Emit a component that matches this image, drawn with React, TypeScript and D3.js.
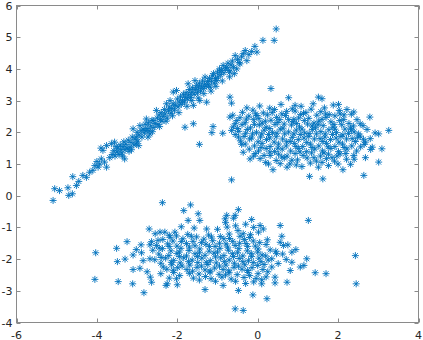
import React from "react";
import * as d3 from "d3";

const xTicks = [-6, -4, -2, 0, 2, 4];
const yTicks = [-4, -3, -2, -1, 0, 1, 2, 3, 4, 5, 6];

const diagonalCluster: [number, number][] = [
  [-5.09,-0.15],[-5.05,0.22],[-4.93,0.16],[-4.72,0.25],[-4.70,0.01],[-4.61,0.06],[-4.60,0.60],[-4.51,0.32],[-4.45,0.45],[-4.35,0.64],[-4.26,0.58],[-4.18,0.74],[-4.10,0.80],[-3.97,0.90],[-3.93,1.00],[-3.89,1.16],[-3.81,1.06],[-3.76,0.90],[-3.85,1.43],[-3.90,1.50],[-4.05,0.95],[-4.00,1.08],
  [-3.76,1.58],[-3.64,1.64],[-3.56,1.69],[-3.68,1.20],[-3.62,1.30],[-3.58,1.42],[-3.55,1.25],[-3.50,1.38],[-3.48,1.50],[-3.45,1.30],[-3.42,1.60],[-3.40,1.45],[-3.38,1.35],[-3.35,1.55],[-3.33,1.70],[-3.31,1.16],[-3.30,1.45],[-3.28,1.62],[-3.25,1.50],[-3.22,1.75],[-3.20,1.40],[-3.18,1.53],[-3.15,1.68],[-3.12,1.85],[-3.10,2.11],[-3.08,1.60],[-3.05,1.78],[-3.02,1.64],[-3.02,1.85],[-3.00,2.00],[-2.98,1.72],[-2.95,1.92],[-2.93,2.21],[-2.90,2.05],[-2.88,1.85],[-2.85,2.10],[-2.82,1.98],[-2.80,2.25],[-2.77,2.42],[-2.75,2.12],[-2.73,1.85],[-2.72,2.30],[-2.70,2.05],[-2.68,1.95],[-2.66,2.20],[-2.63,2.38],[-2.60,2.37],[-2.58,2.15],[-2.55,2.28],[-2.52,2.69],[-2.50,2.45],[-2.48,2.25],[-2.45,2.55],[-2.42,2.40],[-2.40,2.62],[-2.38,2.35],[-2.35,2.50],[-2.32,2.72],[-2.30,2.58],[-2.27,2.90],[-2.25,2.45],[-2.22,2.68],[-2.20,2.80],[-2.18,3.00],[-2.16,2.60],[-2.14,2.75],[-2.10,3.27],[-2.10,2.90],[-2.07,2.70],[-2.05,2.85],[-2.02,3.32],[-2.00,3.05],[-1.98,2.80],[-1.95,2.95],[-1.92,3.12],[-1.90,2.88],[-1.87,3.00],[-1.85,3.20],[-1.82,2.95],[-1.80,3.10],[-1.78,3.25],[-1.75,3.05],[-1.73,3.53],[-1.72,3.18],[-1.70,3.35],[-1.67,3.10],[-1.65,3.25],[-1.62,3.40],[-1.60,2.85],[-1.58,3.20],[-1.56,3.63],[-1.55,3.35],[-1.52,3.48],[-1.50,3.25],[-1.47,3.40],[-1.45,3.55],[-1.44,3.00],[-1.42,3.30],[-1.40,3.45],[-1.37,3.62],[-1.35,3.38],[-1.32,3.52],[-1.31,3.74],[-1.28,3.45],[-1.27,2.95],[-1.25,3.60],[-1.22,3.50],[-1.20,3.70],[-1.18,3.42],[-1.15,3.62],[-1.12,3.78],[-1.10,3.85],[-1.08,3.55],[-1.05,3.70],[-1.02,3.63],[-1.00,3.90],[-0.98,3.75],[-0.95,4.00],[-0.92,3.82],[-0.90,3.95],[-0.86,4.11],[-0.84,3.88],[-0.80,4.02],[-0.77,4.05],[-0.74,4.18],[-0.72,3.95],[-0.69,3.90],[-0.66,4.12],[-0.63,4.25],[-0.60,4.05],[-0.56,4.42],[-0.52,4.00],[-0.50,4.30],[-0.46,4.20],[-0.44,4.16],[-0.40,4.38],[-0.36,4.48],[-0.31,4.58],[-0.27,4.26],[-0.22,4.45],[-0.15,4.55],[-0.07,4.71],[-0.02,4.53],[0.13,4.90],[0.41,4.90],[0.46,5.26],
  [-0.69,3.11],[-0.65,2.92],[-1.60,2.27],[-1.81,2.16],[-1.11,2.18],
  [-3.52,1.55],[-3.36,1.25],[-3.14,1.45],[-2.96,1.58],[-2.78,2.05],[-2.62,2.02],[-2.44,2.18],[-2.28,2.35],[-2.12,2.52],[-1.96,2.62],[-1.76,2.82],[-1.64,3.00],[-1.48,3.08],[-1.34,3.22],[-1.16,3.30],[-1.04,3.45],[-0.88,3.62],[-0.70,3.75],[-0.58,3.85],
];

const upperRightCluster: [number, number][] = [
  [0.33,3.38],[0.77,3.09],[0.93,2.85],[1.51,3.11],[1.60,3.06],[2.01,2.88],[2.39,2.64],[2.79,2.48],[3.01,1.95],[3.26,2.06],[3.09,1.48],[3.01,1.06],[2.68,1.20],[2.64,0.64],[2.12,0.82],[1.62,0.53],[1.29,0.61],[1.51,0.90],[0.38,0.82],[-0.65,0.50],[-1.45,1.62],[-1.14,1.99],[-0.87,1.97],[-0.27,2.77],[2.39,1.27],[2.55,2.27],[2.51,1.95],[2.05,2.58],[0.73,0.90],[2.68,1.69],[2.85,1.53],[-0.69,2.48],[-0.56,2.27],[-0.65,2.06],[-0.48,1.85],[-0.36,1.37],[-0.19,1.16],[-0.02,2.53],[0.27,1.00],[0.31,1.27],
  [0.05,2.83],[0.30,2.76],[0.58,2.88],[0.86,2.74],[1.08,2.82],[1.38,2.90],[1.66,2.77],[1.88,2.86],
  [-0.38,2.63],[-0.12,2.70],[0.14,2.61],[0.42,2.72],[0.60,2.58],[0.93,2.67],[1.14,2.60],[1.33,2.73],[1.57,2.65],[1.78,2.56],[2.03,2.69],[2.22,2.72],
  [-0.62,2.54],[-0.44,2.46],[-0.22,2.51],[0.03,2.43],[0.24,2.55],[0.47,2.47],[0.69,2.53],[0.90,2.41],[1.07,2.56],[1.27,2.44],[1.47,2.54],[1.70,2.47],[1.92,2.52],[2.14,2.40],[2.33,2.57],
  [-0.52,2.37],[-0.31,2.30],[-0.10,2.40],[0.11,2.29],[0.33,2.38],[0.50,2.31],[0.77,2.40],[0.97,2.28],[1.16,2.37],[1.40,2.29],[1.60,2.41],[1.82,2.33],[2.04,2.37],[2.27,2.28],[2.47,2.40],
  [-0.61,2.17],[-0.39,2.24],[-0.18,2.14],[0.04,2.23],[0.21,2.16],[0.43,2.25],[0.63,2.13],[0.84,2.23],[1.04,2.17],[1.24,2.26],[1.44,2.14],[1.63,2.21],[1.87,2.16],[2.09,2.24],[2.31,2.13],[2.62,2.21],
  [-0.47,2.03],[-0.26,2.09],[-0.03,2.00],[0.16,2.07],[0.37,1.99],[0.56,2.10],[0.77,2.01],[0.96,2.07],[1.17,1.98],[1.36,2.09],[1.57,2.02],[1.77,2.08],[1.96,1.99],[2.17,2.10],[2.40,2.01],[2.72,2.09],[2.92,1.98],
  [-0.56,1.93],[-0.34,1.87],[-0.13,1.95],[0.07,1.85],[0.27,1.93],[0.46,1.86],[0.67,1.95],[0.86,1.84],[1.06,1.93],[1.27,1.87],[1.46,1.95],[1.67,1.85],[1.86,1.93],[2.07,1.87],[2.26,1.96],[2.49,1.84],
  [-0.43,1.73],[-0.20,1.79],[0.01,1.70],[0.22,1.77],[0.41,1.69],[0.62,1.79],[0.81,1.71],[1.01,1.77],[1.22,1.68],[1.41,1.79],[1.62,1.71],[1.81,1.77],[2.02,1.69],[2.21,1.79],[2.43,1.71],[2.63,1.78],
  [-0.31,1.63],[-0.08,1.57],[0.11,1.65],[0.31,1.55],[0.52,1.63],[0.71,1.57],[0.91,1.65],[1.12,1.55],[1.31,1.63],[1.52,1.57],[1.71,1.65],[1.92,1.55],[2.11,1.63],[2.34,1.57],[2.56,1.54],
  [-0.21,1.47],[0.02,1.41],[0.21,1.49],[0.42,1.39],[0.61,1.47],[0.82,1.41],[1.02,1.49],[1.21,1.39],[1.42,1.47],[1.61,1.41],[1.82,1.49],[2.01,1.39],[2.22,1.47],[2.46,1.41],[2.81,1.46],
  [-0.06,1.33],[0.16,1.27],[0.52,1.31],[0.73,1.25],[0.93,1.33],[1.13,1.27],[1.34,1.35],[1.56,1.25],[1.76,1.31],[1.97,1.25],[2.19,1.33],
  [0.06,1.17],[0.46,1.11],[0.66,1.19],[0.99,1.13],[1.23,1.19],[1.46,1.09],[1.71,1.17],[1.91,1.09],[2.21,1.15],
  [0.56,1.01],[0.96,0.97],[1.31,1.03],[1.76,0.95],[2.31,0.99],
  [-0.28,2.42],[-0.05,2.58],[0.19,2.35],[0.36,2.62],[0.55,2.40],[0.72,2.66],[0.88,2.33],[1.02,2.45],[1.20,2.62],[1.35,2.20],[1.52,2.35],[1.69,2.58],[1.90,2.25],[2.15,2.55],[2.38,2.20],
  [-0.50,2.12],[-0.30,1.97],[-0.08,2.25],[0.10,1.95],[0.30,2.12],[0.48,1.97],[0.66,2.26],[0.90,1.95],[1.10,2.10],[1.28,1.96],[1.50,2.24],[1.68,1.95],[1.92,2.10],[2.12,1.92],[2.33,2.08],[2.55,1.88],[2.80,1.80],
  [-0.40,1.62],[-0.15,1.82],[0.08,1.52],[0.30,1.82],[0.50,1.50],[0.72,1.70],[0.95,1.55],[1.15,1.82],[1.35,1.52],[1.55,1.80],[1.75,1.54],[1.95,1.82],[2.15,1.52],[2.35,1.80],[2.65,1.62],
  [-0.10,1.25],[0.30,1.38],[0.60,1.22],[0.85,1.12],[1.05,1.38],[1.40,1.20],[1.65,1.35],[1.85,1.20],[2.05,1.32],[2.40,1.15],[0.20,1.05],[0.80,1.00],[1.10,0.92],[1.60,1.05],[2.00,1.00],
];

const lowerCluster: [number, number][] = [
  [-2.37,-0.22],[-1.67,-0.29],[-1.84,-0.47],[-1.48,-0.57],[-1.73,-0.78],[-1.44,-0.78],[-2.70,-1.05],[-4.03,-1.80],[-3.51,-1.66],[-3.49,-2.08],[-4.05,-2.64],[-3.47,-2.71],[-3.11,-2.78],[-2.83,-3.06],[-3.10,-1.87],[-3.02,-1.70],[-2.89,-1.80],[-3.10,-2.33],[-2.93,-2.29],[-2.68,-1.99],[-2.68,-1.55],[-2.64,-1.45],[-2.43,-1.15],[-2.31,-1.15],[-2.06,-1.15],[-2.18,-1.31],[-2.48,-1.41],[-2.64,-2.73],[-2.67,-2.57],[-2.28,-2.83],[-2.25,-2.78],[-2.00,-2.81],[-2.02,-2.62],[-1.94,-2.52],[-1.31,-2.96],[-1.60,-2.60],[-0.48,-0.44],[-0.60,-0.71],[-0.81,-0.73],[-0.15,-0.75],[0.06,-0.94],[0.56,-0.94],[1.26,-0.78],[0.60,-1.28],[0.56,-1.47],[0.64,-1.57],[0.85,-1.78],[1.22,-1.99],[1.43,-2.43],[1.70,-2.46],[0.73,-2.73],[0.43,-2.75],[0.43,-2.57],[0.81,-2.36],[0.85,-2.10],[1.06,-2.25],[0.23,-3.25],[-0.12,-3.13],[-0.48,-2.99],[-0.86,-2.83],[-0.56,-3.57],[-0.36,-3.62],[0.35,-1.99],[0.47,-1.83],[0.14,-1.05],[0.02,-1.15],[-0.36,-1.20],[-1.27,-1.05],[2.45,-2.78],[2.43,-1.89],[-0.30,-2.77],[-0.10,-2.72],[0.10,-2.78],[-1.45,-2.66],
  [-1.00,-1.06],[-0.76,-0.99],[-1.58,-1.02],[-0.49,-1.10],[-1.90,-0.98],[-0.80,-0.85],[-0.55,-0.95],[-0.30,-0.90],[-0.10,-1.00],[-0.77,-0.62],[-0.56,-0.62],
  [-2.85,-2.05],[-2.75,-2.40],[-2.90,-1.55],[-2.55,-1.20],[-3.30,-2.00],[-3.25,-1.45],[0.75,-1.55],[0.95,-1.70],[1.15,-2.20],
  [-2.02,-1.27],[-1.74,-1.22],[-1.52,-1.30],[-1.22,-1.24],[-0.93,-1.29],[-0.71,-1.21],[-0.44,-1.28],[-0.18,-1.23],
  [-2.36,-1.38],[-2.11,-1.43],[-1.86,-1.36],[-1.61,-1.44],[-1.34,-1.37],[-1.12,-1.42],[-0.84,-1.36],[-0.62,-1.44],[-0.33,-1.38],[-0.11,-1.43],[0.24,-1.39],
  [-2.52,-1.57],[-2.24,-1.52],[-2.01,-1.59],[-1.77,-1.51],[-1.56,-1.58],[-1.29,-1.53],[-1.06,-1.60],[-0.79,-1.52],[-0.56,-1.57],[-0.29,-1.51],[-0.06,-1.59],[0.21,-1.54],
  [-2.61,-1.72],[-2.37,-1.67],[-2.16,-1.74],[-1.91,-1.66],[-1.71,-1.73],[-1.44,-1.68],[-1.21,-1.75],[-0.94,-1.66],[-0.73,-1.72],[-0.47,-1.67],[-0.26,-1.74],[0.01,-1.68],[0.31,-1.71],
  [-2.46,-1.84],[-2.21,-1.89],[-2.01,-1.82],[-1.77,-1.90],[-1.56,-1.83],[-1.31,-1.88],[-1.09,-1.81],[-0.84,-1.89],[-0.63,-1.83],[-0.37,-1.90],[-0.16,-1.82],[0.11,-1.87],[0.62,-1.84],
  [-2.56,-2.02],[-2.29,-1.97],[-2.09,-2.04],[-1.84,-1.96],[-1.63,-2.03],[-1.39,-1.97],[-1.18,-2.05],[-0.92,-1.96],[-0.71,-2.03],[-0.46,-1.98],[-0.23,-2.05],[0.03,-1.97],[0.26,-2.03],[0.71,-2.01],
  [-2.41,-2.13],[-2.14,-2.18],[-1.93,-2.12],[-1.69,-2.19],[-1.49,-2.11],[-1.24,-2.17],[-1.03,-2.12],[-0.79,-2.19],[-0.58,-2.13],[-0.32,-2.18],[-0.11,-2.11],[0.16,-2.17],[0.51,-2.14],
  [-2.26,-2.32],[-1.99,-2.27],[-1.76,-2.33],[-1.51,-2.26],[-1.31,-2.34],[-1.07,-2.28],[-0.86,-2.33],[-0.59,-2.26],[-0.39,-2.32],[-0.14,-2.27],[0.13,-2.33],
  [-2.41,-2.46],[-2.09,-2.42],[-1.46,-2.47],[-1.19,-2.41],[-0.96,-2.48],[-0.71,-2.43],[-0.51,-2.49],[-0.24,-2.42],[0.01,-2.46],
  [-1.16,-2.62],[-0.89,-2.57],[-0.66,-2.63],[-0.34,-2.58],[-0.04,-2.61],[0.21,-2.56],
  [-2.20,-1.25],[-1.90,-1.45],[-1.65,-1.28],[-1.40,-1.48],[-1.15,-1.30],[-0.95,-1.50],[-0.70,-1.35],[-0.45,-1.50],[-0.20,-1.32],[0.05,-1.48],
  [-2.45,-1.65],[-2.20,-1.60],[-1.95,-1.78],[-1.70,-1.62],[-1.45,-1.80],[-1.20,-1.60],[-1.00,-1.78],[-0.75,-1.62],[-0.50,-1.80],[-0.25,-1.60],[0.00,-1.78],[0.20,-1.90],[0.45,-1.75],
  [-2.40,-1.95],[-2.15,-2.10],[-1.95,-1.92],[-1.72,-2.08],[-1.50,-1.92],[-1.28,-2.10],[-1.05,-1.93],[-0.83,-2.08],[-0.60,-1.92],[-0.37,-2.08],[-0.15,-1.92],[0.08,-2.08],[0.35,-2.25],
  [-2.35,-2.25],[-2.10,-2.35],[-1.88,-2.22],[-1.62,-2.38],[-1.40,-2.22],[-1.18,-2.38],[-0.95,-2.22],[-0.72,-2.37],[-0.48,-2.22],[-0.25,-2.36],[0.00,-2.20],[0.25,-2.40],
  [-1.30,-2.55],[-1.05,-2.70],[-0.80,-2.50],[-0.55,-2.70],[-0.20,-2.52],[0.10,-2.65],[-1.70,-2.45],[-2.20,-2.60],
];

const W = 423;
const H = 340;
const MARKER = "M-3.5,0H3.5M0,-3.5V3.5M-2.5,-2.5L2.5,2.5M-2.5,2.5L2.5,-2.5";

export default function App() {
  const x = d3.scaleLinear().domain([-6, 4]).range([16.5, 418.5]);
  const y = d3.scaleLinear().domain([-4, 6]).range([322.5, 5.5]);
  const all = [...diagonalCluster, ...upperRightCluster, ...lowerCluster];
  const axisColor = "#8a8a8a";
  const textColor = "#262626";
  const tl = 4;
  return (
    <svg width={W} height={H} style={{ position: "absolute", left: 0, top: 0, background: "#fff" }}
      fontFamily="'DejaVu Sans', sans-serif" fontSize={11}>
      <rect x={0} y={0} width={W} height={H} fill="#fff" />
      <g>
        {all.map((p, i) => (
          <path key={i} d={MARKER} transform={`translate(${x(p[0])},${y(p[1])})`}
            stroke="#0072BD" strokeWidth={0.9} fill="none" />
        ))}
      </g>
      <rect x={x(-6)} y={y(6)} width={x(4) - x(-6)} height={y(-4) - y(6)} fill="none" stroke={axisColor} strokeWidth={1} />
      {xTicks.map((t) => (
        <g key={"x" + t}>
          <line x1={Math.round(x(t)) + 0.5} x2={Math.round(x(t)) + 0.5} y1={y(-4)} y2={y(-4) - tl} stroke={axisColor} />
          <line x1={Math.round(x(t)) + 0.5} x2={Math.round(x(t)) + 0.5} y1={y(6)} y2={y(6) + tl} stroke={axisColor} />
          <text x={x(t)} y={338.5} textAnchor="middle" fill={textColor}>{String(t)}</text>
        </g>
      ))}
      {yTicks.map((t) => (
        <g key={"y" + t}>
          <line x1={x(-6)} x2={x(-6) + tl} y1={Math.round(y(t)) + 0.5} y2={Math.round(y(t)) + 0.5} stroke={axisColor} />
          <line x1={x(4)} x2={x(4) - tl} y1={Math.round(y(t)) + 0.5} y2={Math.round(y(t)) + 0.5} stroke={axisColor} />
          <text x={12.5} y={y(t) + 4} textAnchor="end" fill={textColor}>{String(t)}</text>
        </g>
      ))}
    </svg>
  );
}
